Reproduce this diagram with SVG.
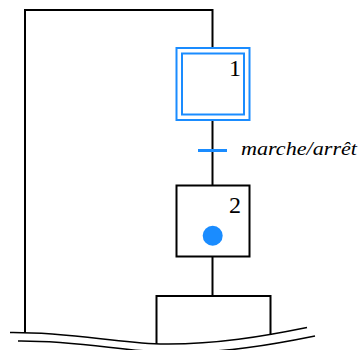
<svg xmlns="http://www.w3.org/2000/svg" width="360" height="350" viewBox="0 0 360 350" font-family="'Liberation Serif', serif">
<style>
.ln{fill:none;stroke:#000;stroke-width:2}
.blue{fill:none;stroke:#1a8cff;stroke-width:2}
.wave{fill:none;stroke:#000;stroke-width:1.6}
text{font-family:'Liberation Serif',serif}
</style>
<rect width="360" height="350" fill="#fff"/>
<g id="connectors">
<path class="ln" d="M25,333 V10 H212.5 V48"/>
<path class="ln" d="M212.5,120.5 V185.5"/>
<path class="ln" d="M212.5,256.5 V296"/>
<path class="ln" d="M156.5,344 V296 H270.5 V334"/>
</g>
<g id="step1" font-family="'Liberation Serif', serif">
<rect class="blue" x="176.5" y="48" width="73" height="72"/>
<rect class="blue" x="182" y="53.5" width="62" height="61"/>
<text x="241" y="75.7" text-anchor="end" font-family="'Liberation Serif', serif" font-size="24">1</text>
</g>
<g id="transition" font-family="'Liberation Serif', serif">
<line x1="198" y1="150.5" x2="227" y2="150.5" stroke="#1a8cff" stroke-width="3"/>
<text x="241" y="155" font-family="'Liberation Serif', serif" font-style="italic" font-size="18.5" textLength="116" lengthAdjust="spacingAndGlyphs">marche/arrêt</text>
</g>
<g id="step2" font-family="'Liberation Serif', serif">
<rect class="ln" x="176.5" y="185.5" width="73" height="71"/>
<text x="241" y="212.7" text-anchor="end" font-family="'Liberation Serif', serif" font-size="24">2</text>
<circle cx="212.7" cy="235.7" r="10" fill="#1a8cff"/>
</g>
<g id="break">
<path class="wave" d="M10,332.5 C70,332 110,342 160,344 C215,345 265,336 307,327.5"/>
<path class="wave" transform="translate(8,8.5)" d="M10,332.5 C70,332 110,342 160,344 C215,345 265,336 307,327.5"/>
</g>
</svg>
